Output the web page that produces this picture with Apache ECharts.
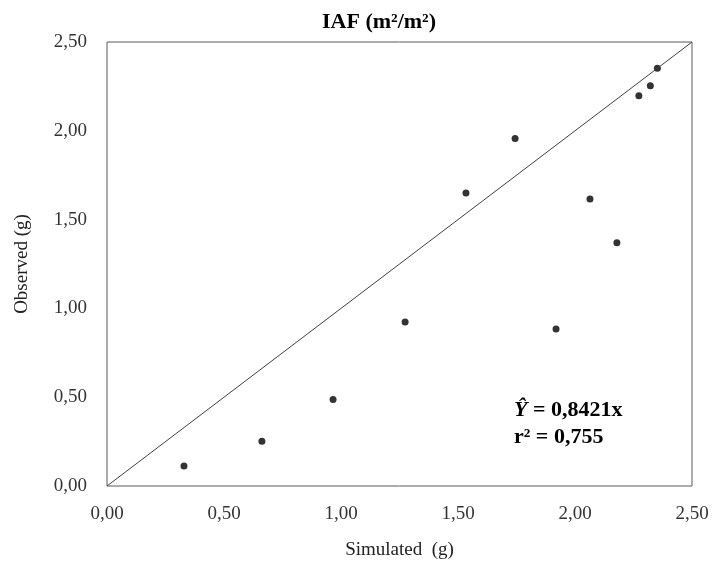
<!DOCTYPE html>
<html>
<head>
<meta charset="utf-8">
<script src="https://cdn.jsdelivr.net/npm/echarts@6/dist/echarts.min.js"></script>
<style>html,body{margin:0;padding:0;background:#fff}#c{width:713px;height:565px}</style>
</head>
<body>
<div id="c"></div>
<script>
const simulated = [0.329, 0.662, 0.966, 1.274, 1.534, 1.744, 1.919, 2.064, 2.179, 2.273, 2.322, 2.352];
const observed  = [0.112, 0.252, 0.487, 0.923, 1.650, 1.957, 0.884, 1.616, 1.370, 2.198, 2.254, 2.352];
const lineX = [0, 2.5];
const lineY = [0, 2.5];
const titleText = 'IAF (m²/m²)';
const xName = 'Simulated  (g)';
const yName = 'Observed (g)';
const eqText = ['Ŷ', ' = 0,8421x'];
const r2Text = 'r² = 0,755';

const font = '"Liberation Serif", "DejaVu Serif", serif';
const fmt = v => v.toFixed(2).replace('.', ',');
const chart = echarts.init(document.getElementById('c'));
chart.setOption({
  animation: false,
  backgroundColor: '#fff',
  title: {
    text: titleText, left: 374, top: 6, textAlign: 'center',
    textStyle: { fontFamily: font, fontSize: 22, fontWeight: 'bold', color: '#000' }
  },
  grid: { left: 107, right: 21, top: 42, bottom: 76, show: true, borderColor: '#5a5a5a', borderWidth: 1, containLabel: false },
  xAxis: {
    type: 'value', min: 0, max: 2.5, interval: 0.5,
    name: xName, nameLocation: 'middle', nameGap: 55,
    nameTextStyle: { fontFamily: font, fontSize: 19, color: '#222' },
    axisLine: { show: false }, axisTick: { show: false }, splitLine: { show: false },
    axisLabel: { formatter: fmt, fontFamily: font, fontSize: 19, color: '#333', margin: 19 }
  },
  yAxis: {
    type: 'value', min: 0, max: 2.5, interval: 0.5,
    name: yName, nameLocation: 'middle', nameGap: 75,
    nameTextStyle: { fontFamily: font, fontSize: 19, color: '#222' },
    axisLine: { show: false }, axisTick: { show: false }, splitLine: { show: false },
    axisLabel: { formatter: fmt, fontFamily: font, fontSize: 19, color: '#333', margin: 20 }
  },
  series: [
    {
      type: 'line', data: lineX.map((x, i) => [x, lineY[i]]),
      showSymbol: false, symbol: 'none', silent: true,
      lineStyle: { color: '#404040', width: 1 }
    },
    {
      type: 'scatter', data: simulated.map((x, i) => [x, observed[i]]),
      symbol: 'circle', symbolSize: 7, itemStyle: { color: '#000' }
    }
  ],
  graphic: [
    {
      type: 'text', left: 514, top: 399,
      style: {
        text: '{i|' + eqText[0] + '}{b|' + eqText[1] + '}',
        rich: {
          i: { fontFamily: font, fontSize: 22, fontWeight: 'bold', fontStyle: 'italic', fill: '#000' },
          b: { fontFamily: font, fontSize: 22, fontWeight: 'bold', fill: '#000' }
        }
      }
    },
    {
      type: 'text', left: 514, top: 426,
      style: { text: r2Text, fontFamily: font, fontSize: 22, fontWeight: 'bold', fill: '#000' }
    }
  ]
});
</script>
</body>
</html>
